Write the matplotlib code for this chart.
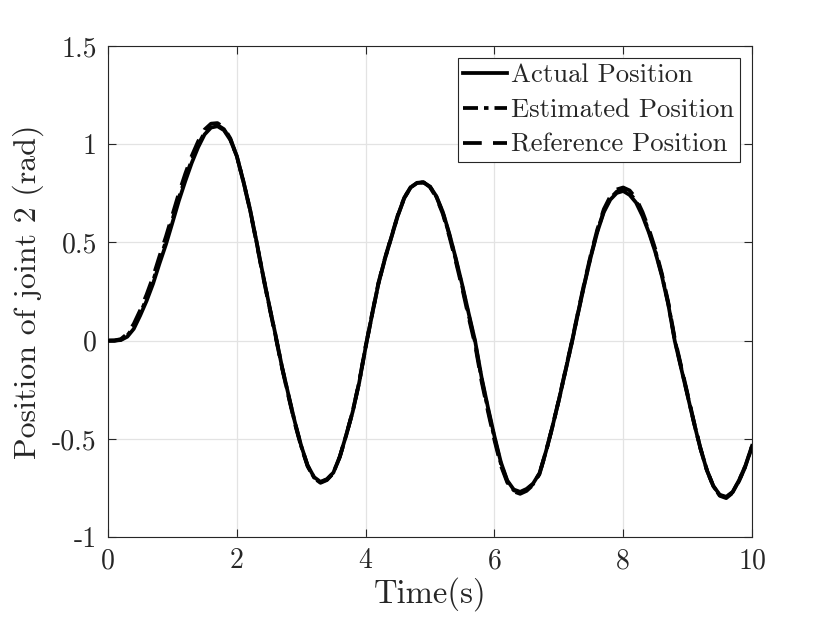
import matplotlib
matplotlib.use("Agg")
import matplotlib.pyplot as plt

# Time samples (s)
time_s = [0.0, 0.1, 0.2, 0.3, 0.4, 0.5, 0.6, 0.7, 0.8, 0.9,
          1.0, 1.1, 1.2, 1.3, 1.4, 1.5, 1.6, 1.7, 1.8, 1.9,
          2.0, 2.1, 2.2, 2.3, 2.4, 2.5, 2.6, 2.7, 2.8, 2.9,
          3.0, 3.1, 3.2, 3.3, 3.4, 3.5, 3.6, 3.7, 3.8, 3.9,
          4.0, 4.1, 4.2, 4.3, 4.4, 4.5, 4.6, 4.7, 4.8, 4.9,
          5.0, 5.1, 5.2, 5.3, 5.4, 5.5, 5.6, 5.7, 5.8, 5.9,
          6.0, 6.1, 6.2, 6.3, 6.4, 6.5, 6.6, 6.7, 6.8, 6.9,
          7.0, 7.1, 7.2, 7.3, 7.4, 7.5, 7.6, 7.7, 7.8, 7.9,
          8.0, 8.1, 8.2, 8.3, 8.4, 8.5, 8.6, 8.7, 8.8, 8.9,
          9.0, 9.1, 9.2, 9.3, 9.4, 9.5, 9.6, 9.7, 9.8, 9.9,
          10.0]

actual_pos = [0.000, 0.000, 0.003, 0.020, 0.060, 0.128, 0.203, 0.290, 0.393, 0.490,
              0.600, 0.712, 0.812, 0.905, 0.985, 1.050, 1.085, 1.092, 1.072, 1.022,
              0.940, 0.815, 0.678, 0.516, 0.347, 0.186, 0.032, -0.130, -0.272, -0.412,
              -0.535, -0.635, -0.695, -0.719, -0.705, -0.672, -0.590, -0.480, -0.362, -0.215,
              -0.035, 0.130, 0.290, 0.415, 0.525, 0.635, 0.725, 0.780, 0.803, 0.806,
              0.785, 0.735, 0.655, 0.545, 0.420, 0.285, 0.140, 0.000, -0.185, -0.340,
              -0.485, -0.618, -0.712, -0.758, -0.770, -0.755, -0.728, -0.675, -0.565, -0.440,
              -0.305, -0.160, -0.015, 0.140, 0.290, 0.430, 0.555, 0.655, 0.718, 0.752,
              0.762, 0.742, 0.703, 0.635, 0.550, 0.450, 0.330, 0.185, 0.000, -0.140,
              -0.280, -0.420, -0.550, -0.660, -0.740, -0.785, -0.795, -0.770, -0.710, -0.635,
              -0.536]

estimated_pos = [0.000, 0.000, 0.005, 0.026, 0.070, 0.138, 0.215, 0.304, 0.408, 0.506,
                 0.616, 0.727, 0.827, 0.919, 0.997, 1.060, 1.093, 1.098, 1.077, 1.025,
                 0.940, 0.814, 0.676, 0.514, 0.344, 0.184, 0.029, -0.132, -0.275, -0.415,
                 -0.537, -0.637, -0.697, -0.721, -0.707, -0.673, -0.591, -0.480, -0.361, -0.213,
                 -0.033, 0.132, 0.292, 0.417, 0.527, 0.637, 0.726, 0.781, 0.804, 0.806,
                 0.784, 0.732, 0.651, 0.540, 0.414, 0.278, 0.132, -0.008, -0.193, -0.348,
                 -0.493, -0.625, -0.716, -0.762, -0.774, -0.759, -0.731, -0.677, -0.566, -0.440,
                 -0.304, -0.158, -0.012, 0.143, 0.294, 0.435, 0.560, 0.661, 0.725, 0.759,
                 0.769, 0.751, 0.712, 0.643, 0.557, 0.456, 0.335, 0.189, 0.005, -0.136,
                 -0.277, -0.418, -0.549, -0.660, -0.741, -0.787, -0.798, -0.772, -0.712, -0.637,
                 -0.538]

reference_pos = [0.000, 0.001, 0.008, 0.035, 0.085, 0.155, 0.235, 0.325, 0.430, 0.530,
                 0.640, 0.750, 0.850, 0.940, 1.015, 1.075, 1.105, 1.108, 1.085, 1.030,
                 0.940, 0.812, 0.672, 0.510, 0.340, 0.180, 0.025, -0.135, -0.280, -0.420,
                 -0.540, -0.640, -0.700, -0.724, -0.710, -0.675, -0.592, -0.480, -0.360, -0.210,
                 -0.030, 0.135, 0.295, 0.420, 0.530, 0.640, 0.728, 0.782, 0.805, 0.806,
                 0.782, 0.728, 0.645, 0.532, 0.405, 0.268, 0.120, -0.020, -0.205, -0.360,
                 -0.505, -0.635, -0.722, -0.768, -0.780, -0.765, -0.735, -0.680, -0.568, -0.440,
                 -0.302, -0.155, -0.008, 0.148, 0.300, 0.442, 0.568, 0.670, 0.735, 0.770,
                 0.780, 0.765, 0.725, 0.655, 0.568, 0.465, 0.342, 0.195, 0.012, -0.130,
                 -0.272, -0.415, -0.548, -0.660, -0.742, -0.790, -0.802, -0.775, -0.715, -0.640,
                 -0.540]

x_ticks = [0, 2, 4, 6, 8, 10]
x_tick_labels = ["0", "2", "4", "6", "8", "10"]
y_ticks = [-1, -0.5, 0, 0.5, 1, 1.5]
y_tick_labels = ["-1", "-0.5", "0", "0.5", "1", "1.5"]

plt.rcParams["font.family"] = ["cmr10", "DejaVu Serif"]
plt.rcParams["axes.unicode_minus"] = False

fig = plt.figure(figsize=(8.3, 6.23), dpi=100)
ax = fig.add_axes([0.1301, 0.138, 0.906 - 0.1301, 0.926 - 0.138])

lw = 2.7
ax.plot(time_s, actual_pos, color="black", lw=lw, linestyle="-",
        label="Actual Position", zorder=3, solid_joinstyle="round")
ax.plot(time_s, estimated_pos, color="black", lw=lw, linestyle=(0, (4, 1.6, 1.2, 1.6)),
        label="Estimated Position", zorder=2)
ax.plot(time_s, reference_pos, color="black", lw=lw, linestyle=(0, (5, 3)),
        label="Reference Position", zorder=2)

ax.set_xlim(0, 10)
ax.set_ylim(-1, 1.5)
ax.set_xticks(x_ticks)
ax.set_xticklabels(x_tick_labels)
ax.set_yticks(y_ticks)
ax.set_yticklabels(y_tick_labels)

ax.grid(True, color="#e3e3e3", linewidth=0.9)
ax.set_axisbelow(True)
for sp in ax.spines.values():
    sp.set_color("#262626")
    sp.set_linewidth(0.8)
ax.tick_params(direction="in", length=6, width=0.8, color="#262626",
               top=True, right=True, labelsize=20, labelcolor="#262626", pad=8)

ax.set_xlabel("Time(s)", fontsize=23.5, color="#262626", labelpad=2)
ax.set_ylabel("Position of joint 2 (rad)", fontsize=23, color="#262626", labelpad=6)

leg = ax.legend(loc="upper right", fontsize=19.2, fancybox=False, framealpha=1,
                edgecolor="#262626", borderaxespad=0.45, handlelength=1.65,
                handletextpad=0.15, labelspacing=0.42, borderpad=0.2)
leg.get_frame().set_linewidth(0.8)
for t in leg.get_texts():
    t.set_color("#262626")

fig.savefig("out.png", dpi=100)
